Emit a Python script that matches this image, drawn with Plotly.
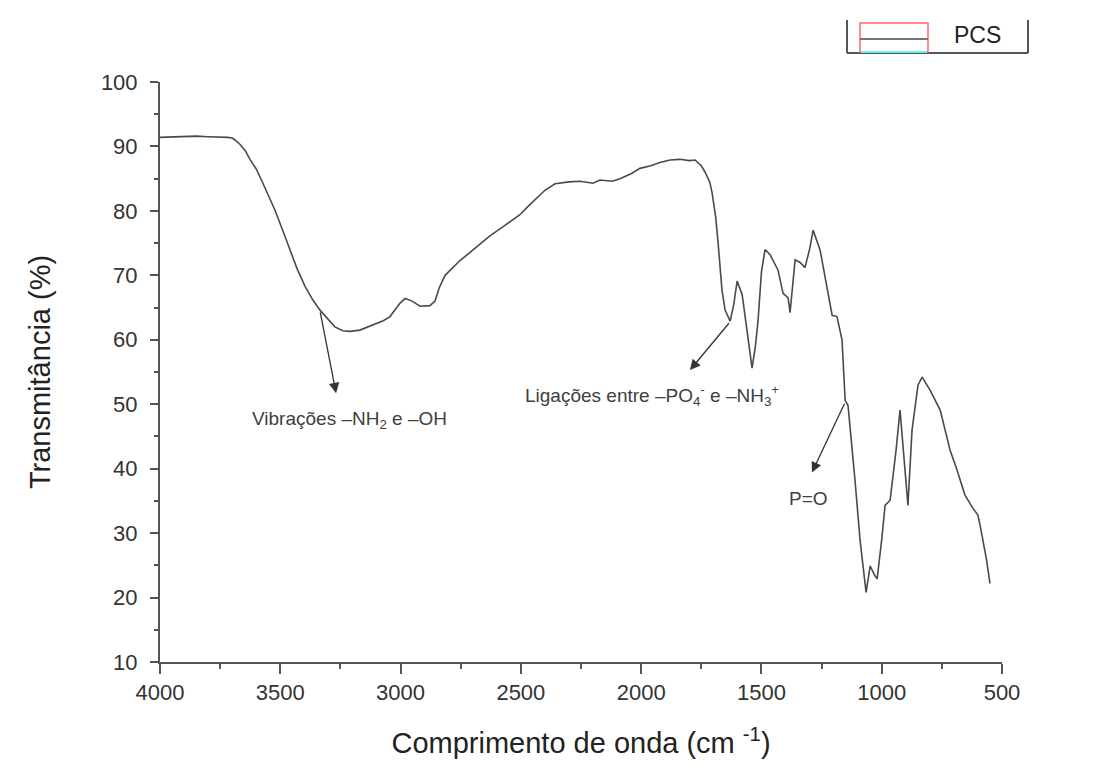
import plotly.graph_objects as go

# FTIR spectrum (wavenumber cm-1, transmittance %)
wavenumber = [4000, 3950, 3900, 3850, 3800, 3750, 3720, 3700, 3688, 3667, 3645, 3626, 3600, 3576, 3550, 3522, 3490, 3460,
              3430, 3397, 3365, 3335, 3300, 3273, 3240, 3210, 3169, 3130, 3106, 3070, 3044, 3020, 3002, 2981, 2952, 2919, 2878,
              2857, 2840, 2815, 2780, 2753, 2710, 2670, 2630, 2587, 2540, 2504, 2470, 2441, 2400, 2358, 2300, 2254, 2200, 2171,
              2120, 2088, 2040, 2005, 1960, 1922, 1880, 1838, 1800, 1776, 1750, 1734, 1715, 1705, 1690, 1680, 1664, 1651,
              1630, 1615, 1601, 1580, 1555, 1539, 1525, 1514, 1500, 1485, 1464, 1431, 1410, 1389, 1381,
              1370, 1360, 1339, 1319, 1300, 1285, 1256, 1227, 1206, 1186, 1165, 1152, 1140, 1111,
              1090, 1065, 1048, 1030, 1019, 1000, 986, 965, 940, 924, 912, 903, 891, 874, 849, 832,
              799, 757, 716, 687, 654, 620, 600, 590, 579, 565, 550]
transmittance = [91.4, 91.5, 91.5, 91.6, 91.5, 91.5, 91.4, 91.3, 91.0, 90.3, 89.3, 88.0, 86.5, 84.6, 82.5, 80.1, 77.0, 73.9,
                 71.0, 68.3, 66.2, 64.6, 63.1, 62.0, 61.4, 61.3, 61.5, 62.1, 62.5, 63.0, 63.6, 64.7, 65.7, 66.4, 66.0, 65.2, 65.3,
                 66.0, 68.0, 70.0, 71.3, 72.3, 73.6, 74.9, 76.1, 77.2, 78.4, 79.4, 80.7, 81.8, 83.2, 84.2, 84.5, 84.6, 84.3, 84.8,
                 84.6, 85.0, 85.8, 86.6, 87.0, 87.5, 87.9, 88.0, 87.8, 87.9, 87.0, 86.0, 84.5, 82.8, 79.0, 75.0, 67.7, 64.6,
                 62.9, 65.5, 69.1, 67.0, 60.0, 55.6, 59.0, 63.0, 70.5, 74.0, 73.2, 70.8, 67.2, 66.5, 64.2,
                 68.0, 72.4, 72.0, 71.2, 74.0, 77.0, 73.9, 67.7, 63.8, 63.6, 60.0, 50.6, 49.8, 38.2,
                 28.9, 20.8, 24.9, 23.5, 22.9, 29.0, 34.3, 35.1, 43.0, 49.1, 44.0, 39.8, 34.3, 46.0, 53.0, 54.2,
                 52.2, 49.1, 42.9, 39.8, 35.9, 33.8, 32.8, 31.0, 28.9, 26.0, 22.2]

series_name = "PCS"

# Annotations: label, arrow tail (on curve) x/y, arrow head x/y, label position x/y
ann_labels = ["Vibrações –NH<sub>2</sub> e –OH",
              "Ligações entre –PO<sub>4</sub><sup>-</sup> e –NH<sub>3</sub><sup>+</sup>",
              "P=O"]
ann_tail_x = [3335, 1630, 1152]
ann_tail_y = [64.5, 62.8, 50.3]
ann_head_x = [3268, 1797, 1290]
ann_head_y = [51.7, 55.3, 39.4]
ann_text_x = [3214, 1955, 1306]
ann_text_y = [47.5, 51.4, 35.4]

x_ticks = [4000, 3500, 3000, 2500, 2000, 1500, 1000, 500]
y_ticks = [10, 20, 30, 40, 50, 60, 70, 80, 90, 100]

FONT = "Liberation Sans, Arial"

fig = go.Figure()
fig.add_trace(go.Scatter(x=wavenumber, y=transmittance, mode="lines", name=series_name,
                         line=dict(color="#4a4a4a", width=1.6), showlegend=False))

for lab, tx, ty, hx, hy, lx, ly in zip(ann_labels, ann_tail_x, ann_tail_y, ann_head_x,
                                        ann_head_y, ann_text_x, ann_text_y):
    fig.add_annotation(x=hx, y=hy, ax=tx, ay=ty, xref="x", yref="y", axref="x", ayref="y",
                       text="", showarrow=True, arrowhead=2, arrowsize=1.6, arrowwidth=1.3,
                       arrowcolor="#333333")
    fig.add_annotation(x=lx, y=ly, xref="x", yref="y", text=lab, showarrow=False,
                       xanchor="center", yanchor="middle",
                       font=dict(family=FONT, size=19, color="#404040"))

axis_font = dict(family=FONT, size=22, color="#333333")
fig.update_xaxes(range=[4000, 500], tickvals=x_ticks, ticks="outside", ticklen=10,
                 tickwidth=2, tickcolor="#555555", showline=True, linecolor="#555555",
                 linewidth=2, showgrid=False, zeroline=False, tickfont=axis_font,
                 minor=dict(dtick=250, ticks="outside", ticklen=5, tickwidth=2,
                            tickcolor="#555555", showgrid=False),
                 title=dict(text="Comprimento de onda (cm <sup>-1</sup>)", standoff=28,
                            font=dict(family=FONT, size=29, color="#222222")))
fig.update_yaxes(range=[10, 100], tickvals=y_ticks, ticks="outside", ticklen=8,
                 tickwidth=2, tickcolor="#555555", showline=True, linecolor="#555555",
                 linewidth=2, showgrid=False, zeroline=False, tickfont=axis_font,
                 ticklabelstandoff=8,
                 minor=dict(dtick=5, ticks="outside", ticklen=4, tickwidth=2,
                            tickcolor="#555555", showgrid=False),
                 title=dict(text="Transmitância (%)", standoff=42,
                            font=dict(family=FONT, size=29, color="#222222")))

# Legend box: paper coordinates relative to plot area (pixel -> paper)
W, H = 1100, 771
L, R, T, B = 160, 98, 82, 109
def px(x): return (x - L) / (W - L - R)
def py(y): return (H - B - y) / (H - T - B)
legend_shapes = [
    dict(type="line", x0=px(847), x1=px(847), y0=py(20), y1=py(53), line=dict(color="#555555", width=2)),
    dict(type="line", x0=px(1028), x1=px(1028), y0=py(20), y1=py(53), line=dict(color="#555555", width=2)),
    dict(type="line", x0=px(847), x1=px(1028), y0=py(53), y1=py(53), line=dict(color="#555555", width=2)),
    dict(type="rect", x0=px(860), x1=px(928), y0=py(23), y1=py(52), line=dict(color="#ff6666", width=1.5)),
    dict(type="line", x0=px(860), x1=px(928), y0=py(39), y1=py(39), line=dict(color="#777777", width=2)),
    dict(type="line", x0=px(861), x1=px(927), y0=py(52), y1=py(52), line=dict(color="#66f0ff", width=2)),
]
for s in legend_shapes:
    s.update(xref="paper", yref="paper")
    fig.add_shape(**s)
fig.add_annotation(x=px(977), y=py(35), xref="paper", yref="paper", text=series_name,
                   xanchor="center", yanchor="middle", showarrow=False,
                   font=dict(family=FONT, size=23, color="#222222"))

fig.update_layout(width=W, height=H, margin=dict(l=L, r=R, t=T, b=B),
                  paper_bgcolor="white", plot_bgcolor="white", showlegend=False)

fig.write_html("out.html")
